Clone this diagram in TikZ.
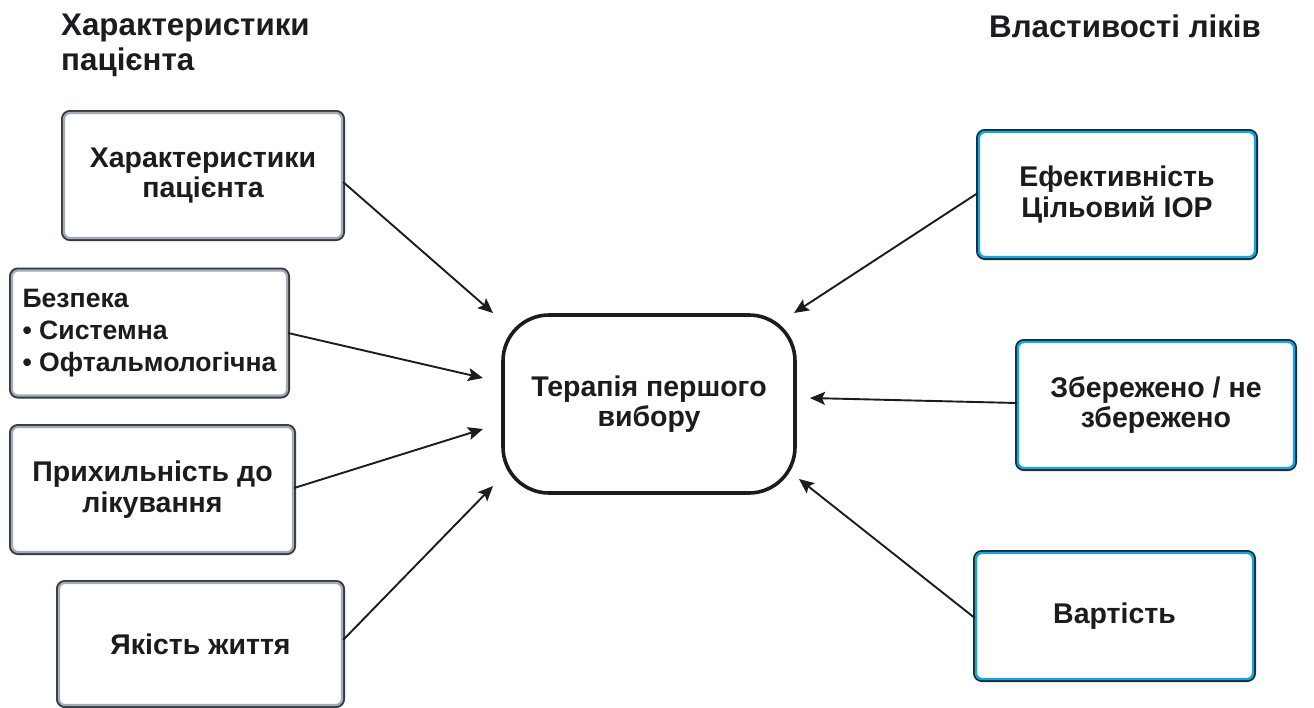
\documentclass[tikz,border=0pt]{standalone}
\usepackage{fontspec}
\setmainfont{Liberation Sans}
\usetikzlibrary{arrows.meta,calc}
\definecolor{ink}{HTML}{1A1C20}
\definecolor{edgeDark}{HTML}{353B42}
\definecolor{edgeGray}{HTML}{A3ACB4}
\definecolor{edgeNavy}{HTML}{1E2A34}
\definecolor{edgeBlue}{HTML}{12A8E8}
\tikzset{
  boxtext/.style={font=\bfseries\fontsize{28.5}{30.5}\selectfont, text=ink, align=center},
  factorbox/.style={boxtext, rounded corners=6pt, fill=white,
    draw=edgeGray, line width=2.2pt, preaction={draw=edgeDark, line width=6pt},
    minimum width=#1, minimum height=125pt, inner sep=0pt},
  propbox/.style={boxtext, rounded corners=6pt, fill=white,
    draw=edgeBlue, line width=2.4pt, preaction={draw=edgeNavy, line width=6pt},
    minimum width=#1, minimum height=125pt, inner sep=0pt},
  hub/.style={boxtext, rounded corners=46pt, draw=ink, line width=3.6pt,
    minimum width=292pt, minimum height=178pt},
  heading/.style={font=\bfseries\fontsize{31.3}{35}\selectfont, text=ink, align=left, inner sep=0pt},
  link/.style={draw=ink, line width=1.9pt, -{Stealth[length=15pt,width=13pt,inset=3pt]}},
}
\begin{document}
\begin{tikzpicture}[x=1pt,y=-1pt]
  \useasboundingbox (0,0) rectangle (1314,707);

  % column headings
  \node[heading, anchor=north west] (hl) at (61,14) {Характеристики\\пацієнта};
  \node[heading, anchor=base west] (hr) at (989,37) {Властивості ліків};

  % central decision
  \node[hub] (core) at (649,404) {Терапія першого\\вибору};

  % patient factors
  \node[factorbox=278pt] (pat) at (203,175.5) {Характеристики\\пацієнта};
  \node[factorbox=275pt, align=left, font=\bfseries\fontsize{26.6}{32}\selectfont]
    (safe) at (149.5,333) {Безпека\\• Системна\\• Офтальмологічна};
  \node[factorbox=281pt] (adh) at (152.5,489.5) {Прихильність до\\лікування};
  \node[factorbox=283pt, minimum height=122pt] (qol) at (200.5,644) {Якість життя};

  % drug properties
  \node[propbox=276pt] (eff) at (1117,194.5) {Ефективність\\Цільовий ІОР};
  \node[propbox=276pt, minimum height=126pt] (pres) at (1156,405) {Збережено / не\\збережено};
  \node[propbox=277pt, minimum height=126pt] (cost) at (1114.5,616) {Вартість};

  % arrow tips stop short of the central box
  \coordinate (t1) at (493,313);
  \coordinate (t2) at (483,378);
  \coordinate (t3) at (483,429);
  \coordinate (t4) at (493,486);
  \coordinate (t5) at (794,313);
  \coordinate (t6) at (810,398);
  \coordinate (t7) at (799,479);

  \draw[link] ([yshift=-6.5pt]pat.east) -- (t1);
  \draw[link] (safe.east) -- (t2);
  \draw[link] ([yshift=1.5pt]adh.east) -- (t3);
  \draw[link] ([yshift=4pt]qol.east) -- (t4);
  \draw[link] ([yshift=1.5pt]eff.west) -- (t5);
  \draw[link] ([yshift=2pt]pres.west) -- (t6);
  \draw[link] ([yshift=-2pt]cost.west) -- (t7);
\end{tikzpicture}
\end{document}
